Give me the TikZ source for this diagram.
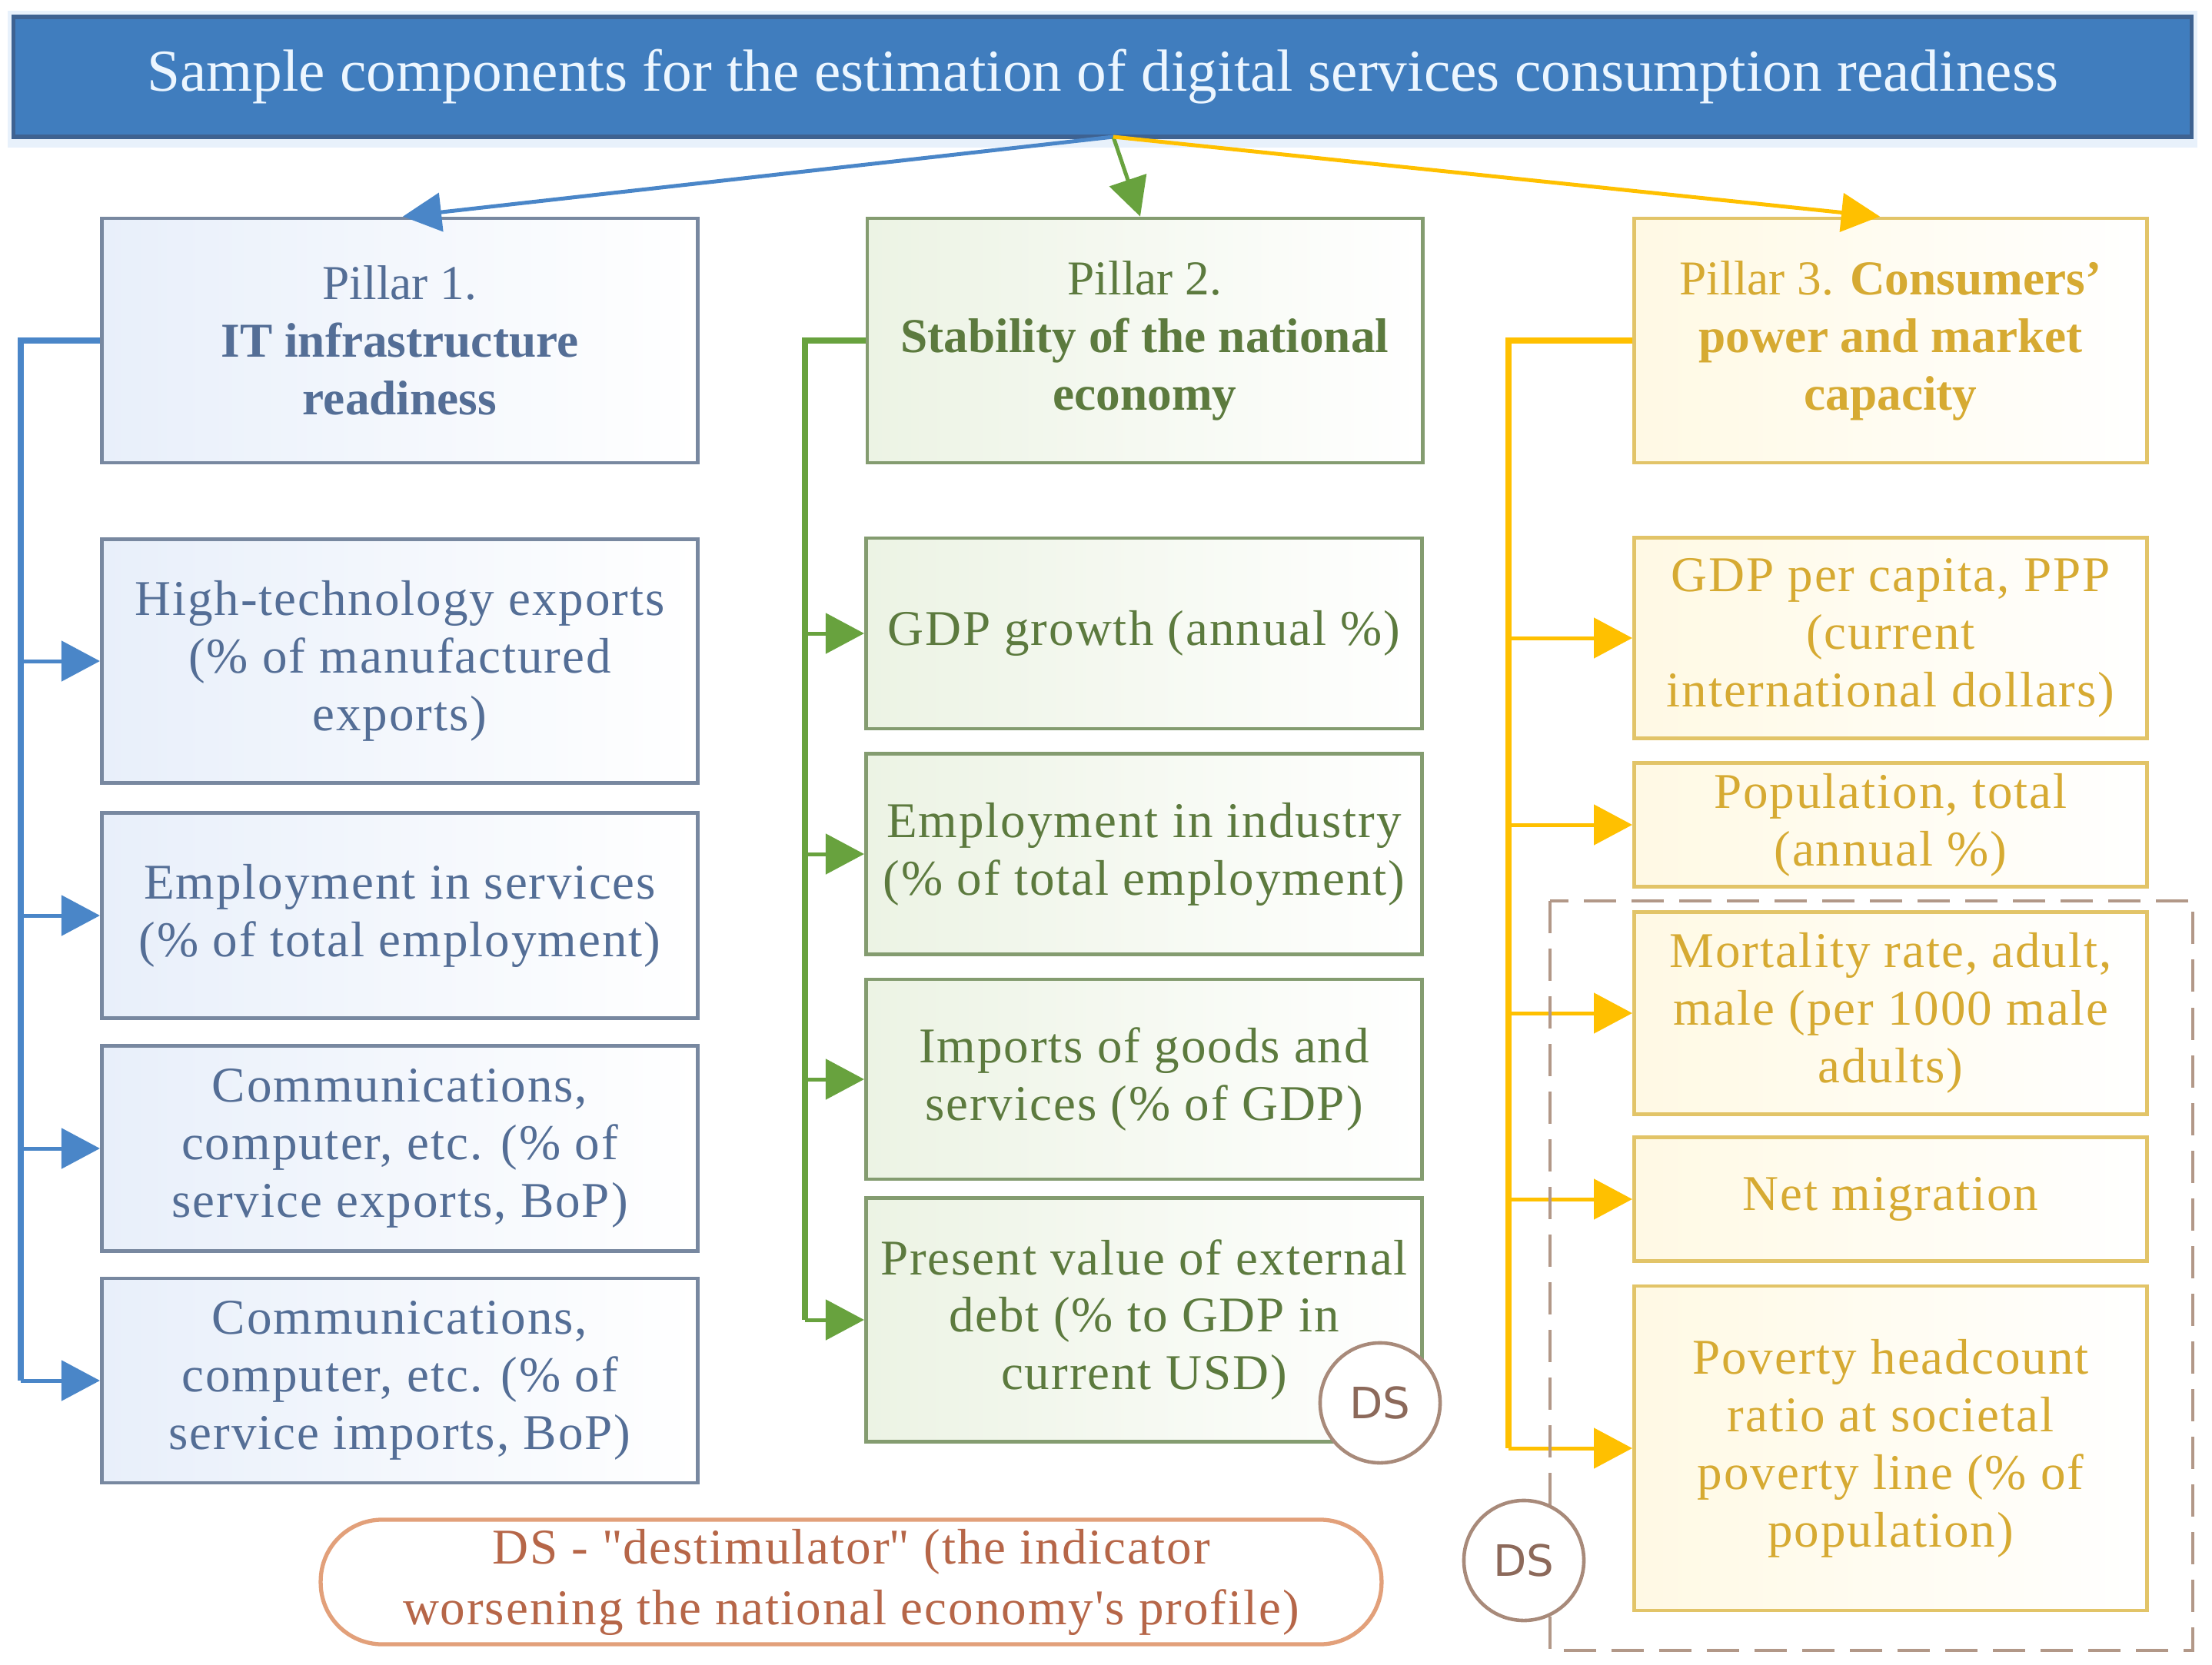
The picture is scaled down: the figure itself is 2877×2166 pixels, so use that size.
\documentclass[tikz,border=0pt]{standalone}
\usepackage{fontspec}
\setmainfont{Liberation Serif}
\newfontfamily\boxfont[LetterSpace=3]{Liberation Serif}
\newfontfamily\dsfont{DejaVu Sans}
\usetikzlibrary{arrows.meta,calc}
\definecolor{titleblue}{RGB}{64,125,190}
\definecolor{titleborder}{RGB}{62,98,145}
\definecolor{titleglow}{RGB}{232,241,251}
\definecolor{titletxt}{RGB}{236,246,255}
\definecolor{bluetxt}{RGB}{84,110,150}
\definecolor{blueline}{RGB}{74,134,200}
\definecolor{blueborder}{RGB}{120,136,160}
\definecolor{bluefill}{RGB}{232,239,250}
\definecolor{greentxt}{RGB}{92,122,62}
\definecolor{greenline}{RGB}{104,162,62}
\definecolor{greenborder}{RGB}{132,156,112}
\definecolor{greenfill}{RGB}{236,243,228}
\definecolor{yeltxt}{RGB}{214,170,50}
\definecolor{yelline}{RGB}{255,192,0}
\definecolor{yelborder}{RGB}{226,196,104}
\definecolor{yelfill}{RGB}{255,249,228}
\definecolor{dscol}{RGB}{168,138,122}
\definecolor{dstxt}{RGB}{140,105,90}
\definecolor{legborder}{RGB}{226,160,122}
\definecolor{legtxt}{RGB}{182,102,72}
\definecolor{dashcol}{RGB}{178,152,136}
\tikzset{
  boxbase/.style={rectangle, inner sep=0pt, line width=1.3pt, align=center,
    font=\boxfont\fontsize{18.5}{21.3}\selectfont},
  pillarbase/.style={rectangle, inner sep=0pt, line width=1.3pt, align=center,
    font=\fontsize{18}{21.3}\selectfont},
  bluebox/.style={boxbase, draw=blueborder, left color=bluefill, right color=white, text=bluetxt},
  greenbox/.style={boxbase, draw=greenborder, left color=greenfill, right color=white, text=greentxt},
  yelbox/.style={boxbase, draw=yelborder, left color=yelfill, right color=white, text=yeltxt},
  bluepillar/.style={pillarbase, draw=blueborder, left color=bluefill, right color=white, text=bluetxt},
  greenpillar/.style={pillarbase, draw=greenborder, left color=greenfill, right color=white, text=greentxt},
  yelpillar/.style={pillarbase, draw=yelborder, left color=yelfill, right color=white, text=yeltxt},
  titlebox/.style={rectangle, inner sep=0pt, fill=titleblue, draw=titleborder, line width=1.5pt,
    text=titletxt, font=\fontsize{22}{26}\selectfont},
  spine/.style={line width=0.075cm},
  branch/.style={line width=0.05cm, -{Triangle[length=0.5cm,width=0.52cm]}},
  toparrow/.style={line width=0.05cm, -{Triangle[length=0.5cm,width=0.5cm]}},
  dscircle/.style={circle, draw=dscol, fill=white, line width=1.3pt, inner sep=0pt,
    minimum size=1.56cm, text=dstxt, font=\dsfont\fontsize{16}{18}\selectfont},
  legendbox/.style={rectangle, rounded corners=0.8cm, draw=legborder, fill=white, line width=1.5pt,
    inner sep=0pt, align=center, text=legtxt, font=\boxfont\fontsize{18.5}{22.5}\selectfont},
  dashbox/.style={draw=dashcol, line width=1.4pt, dash pattern=on 0.42cm off 0.2cm}
}
\begin{document}
\begin{tikzpicture}[x=0.01cm,y=-0.01cm]
\useasboundingbox (0,0) rectangle (2877,2166);
% title
\fill[titleglow] (10,14) rectangle (2858,192);
\node[titlebox, minimum width=28.32cm, minimum height=1.56cm] (title) at (1434,100)
  {Sample components for the estimation of digital services consumption readiness};
\coordinate (src) at (1448,178);
% pillars
\node[bluepillar, minimum width=7.75cm, minimum height=3.18cm] (p1) at (520,443)
  {Pillar 1.\\\textbf{IT infrastructure}\\\textbf{readiness}};
\node[greenpillar, minimum width=7.22cm, minimum height=3.18cm] (p2) at (1489,443)
  {Pillar 2.\\\textbf{Stability of the national}\\\textbf{economy}};
\node[yelpillar, minimum width=6.67cm, minimum height=3.18cm] (p3) at (2459,443)
  {Pillar 3. \textbf{Consumers'}\\\textbf{power and market}\\\textbf{capacity}};
% column 1
\node[bluebox, minimum width=7.75cm, minimum height=3.17cm] (b1) at (520,860)
  {High-technology exports\\(\% of manufactured\\exports)};
\node[bluebox, minimum width=7.75cm, minimum height=2.67cm] (b2) at (520,1191)
  {Employment in services\\(\% of total employment)};
\node[bluebox, minimum width=7.75cm, minimum height=2.67cm] (b3) at (520,1494)
  {Communications,\\computer, etc. (\% of\\service exports, BoP)};
\node[bluebox, minimum width=7.75cm, minimum height=2.66cm] (b4) at (520,1796)
  {Communications,\\computer, etc. (\% of\\service imports, BoP)};
% column 2
\node[greenbox, minimum width=7.23cm, minimum height=2.48cm] (g1) at (1488,824)
  {GDP growth (annual \%)};
\node[greenbox, minimum width=7.23cm, minimum height=2.61cm] (g2) at (1488,1111)
  {Employment in industry\\(\% of total employment)};
\node[greenbox, minimum width=7.23cm, minimum height=2.60cm] (g3) at (1488,1404)
  {Imports of goods and\\services (\% of GDP)};
\node[greenbox, minimum width=7.23cm, minimum height=3.17cm] (g4) at (1488,1717)
  {Present value of external\\debt (\% to GDP in\\current USD)};
% column 3
\node[yelbox, minimum width=6.67cm, minimum height=2.61cm] (y1) at (2459,830)
  {GDP per capita, PPP\\(current\\international dollars)};
\node[yelbox, minimum width=6.67cm, minimum height=1.61cm] (y2) at (2459,1073)
  {Population, total\\(annual \%)};
\node[yelbox, minimum width=6.67cm, minimum height=2.63cm] (y3) at (2459,1318)
  {Mortality rate, adult,\\male (per 1000 male\\adults)};
\node[yelbox, minimum width=6.67cm, minimum height=1.61cm] (y4) at (2459,1560)
  {Net migration};
\node[yelbox, minimum width=6.67cm, minimum height=4.22cm] (y5) at (2459,1884)
  {Poverty headcount\\ratio at societal\\poverty line (\% of\\population)};
% top arrows
\draw[toparrow, blueline] (src) -- ($(p1.north)+(4,0)$);
\draw[toparrow, greenline] (src) -- ($(p2.north)+(-6,0)$);
\draw[toparrow, yelline] (src) -- ($(p3.north)+(-14,0)$);
% spines
\coordinate (bsp) at (27,1796);
\coordinate (gsp) at (1047,1717);
\coordinate (ysp) at (1962,1884);
\draw[spine, blueline] (p1.west) -| (bsp);
\draw[spine, greenline] (p2.west) -| (gsp);
\draw[spine, yelline] (p3.west) -| (ysp);
\foreach \b in {b1,b2,b3,b4} \draw[branch, blueline] (\b.west -| bsp) -- (\b.west);
\foreach \b in {g1,g2,g3,g4} \draw[branch, greenline] (\b.west -| gsp) -- (\b.west);
\foreach \b in {y1,y2,y3,y4,y5} \draw[branch, yelline] (\b.west -| ysp) -- (\b.west);
% dashed group
\coordinate (dtl) at (2016,1172);
\coordinate (dbr) at (2852,2147);
\draw[dashbox] (dtl) rectangle (dbr);
% DS marks
\node[dscircle] (ds1) at (1795,1825) {DS};
\node[dscircle] (ds2) at (1982,2030) {DS};
% legend
\node[legendbox, minimum width=13.79cm, minimum height=1.62cm] (legend) at (1107,2058)
  {DS - \textquotedbl destimulator\textquotedbl{} (the indicator\\worsening the national economy's profile)};
\end{tikzpicture}
\end{document}
